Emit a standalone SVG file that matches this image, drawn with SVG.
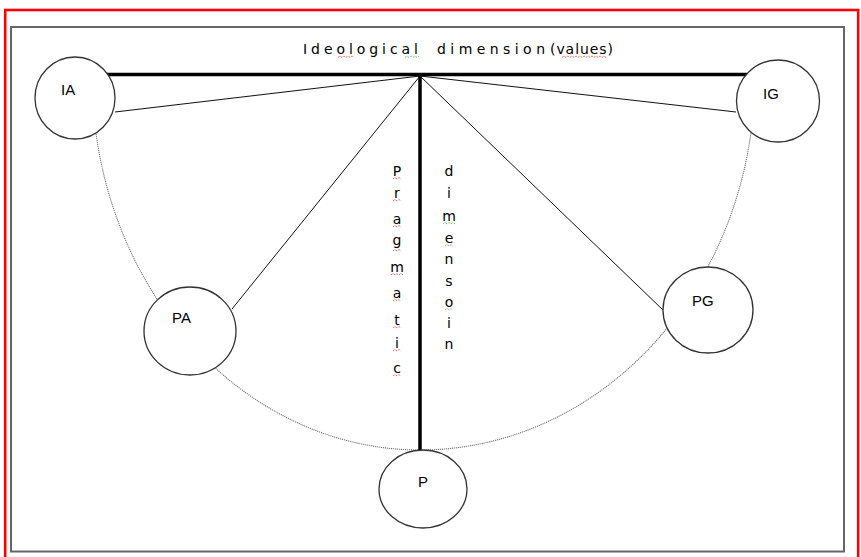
<svg xmlns="http://www.w3.org/2000/svg" width="861" height="557" viewBox="0 0 861 557">
<style>
text{font-family:"DejaVu Sans","Liberation Sans",sans-serif;font-size:14px;fill:#000}
.lbl{font-size:15px;font-family:"Liberation Sans",Arial,sans-serif}
.node{fill:#fff;stroke:#333;stroke-width:1.3}
.thin{stroke:#111;stroke-width:1;fill:none}
.thick{stroke:#000;stroke-width:3.5;fill:none}
.arc{stroke:#777;stroke-width:1.1;fill:none;stroke-dasharray:1.2 0.8}
.sqr{stroke:#d22;stroke-width:0.9;fill:none;stroke-dasharray:1 1}
.sqg{stroke:#3a3;stroke-width:0.9;fill:none;stroke-dasharray:1 1}
.vt{text-anchor:middle}
</style>
<rect x="0" y="0" width="861" height="557" fill="#fff"/>
<rect x="5.2" y="10" width="853" height="560" fill="none" stroke="#f00" stroke-width="2.6"/>
<rect x="11" y="27" width="833" height="524.5" fill="none" stroke="#666" stroke-width="2"/>

<g id="connectors">
  <path class="arc" d="M420,450 A328,375 0 0 1 92,75"/>
  <path class="arc" d="M420,450 A335,375 0 0 0 755,75"/>
  <line class="thick" x1="107" y1="74.5" x2="747" y2="74.5"/>
  <line class="thick" x1="420" y1="73" x2="420" y2="450"/>
  <line class="thin" x1="420" y1="76" x2="115" y2="112"/>
  <line class="thin" x1="420" y1="76" x2="736" y2="112"/>
  <line class="thin" x1="420" y1="76" x2="232" y2="309"/>
  <line class="thin" x1="420" y1="76" x2="663" y2="310"/>
</g>

<g id="title">
  <text x="303" y="54" textLength="115" lengthAdjust="spacing">Ideological</text>
  <text x="437" y="54" textLength="108" lengthAdjust="spacing">dimension</text>
  <text x="550" y="54" textLength="63" lengthAdjust="spacing">(values)</text>
  <path class="sqr" d="M338,57.5 l2,-1.5 l2,1.5 l2,-1.5 l2,1.5 l2,-1.5 l2,1.5 l2,-1.5 l2,1.5"/>
  <path class="sqg" d="M405,57.5 l2,-1.5 l2,1.5 l2,-1.5 l2,1.5 l2,-1.5 l2,1.5 l2,-1.5"/>
  <path class="sqr" d="M562,57.5 l2,-1.5 l2,1.5 l2,-1.5 l2,1.5 l2,-1.5 l2,1.5 l2,-1.5 l2,1.5 l2,-1.5 l2,1.5 l2,-1.5 l2,1.5 l2,-1.5 l2,1.5 l2,-1.5 l2,1.5 l2,-1.5 l2,1.5 l2,-1.5 l2,1.5 l2,-1.5 l2,1.5"/>
</g>

<g id="pragmatic">
  <text class="vt" x="397" y="176">P</text>
  <text class="vt" x="397" y="198">r</text>
  <text class="vt" x="397" y="224">a</text>
  <text class="vt" x="397" y="245">g</text>
  <text class="vt" x="397" y="272">m</text>
  <text class="vt" x="397" y="298">a</text>
  <text class="vt" x="397" y="325">t</text>
  <text class="vt" x="397" y="348">i</text>
  <text class="vt" x="397" y="373">c</text>
  <path class="sqr" d="M393,179 l2,-1.5 l2,1.5 l2,-1.5 l2,1.5"/>
  <path class="sqr" d="M393,201 l2,-1.5 l2,1.5 l2,-1.5 l2,1.5"/>
  <path class="sqr" d="M393,227 l2,-1.5 l2,1.5 l2,-1.5 l2,1.5"/>
  <path class="sqr" d="M393,251 l2,-1.5 l2,1.5 l2,-1.5 l2,1.5"/>
  <path class="sqr" d="M391,275 l2,-1.5 l2,1.5 l2,-1.5 l2,1.5 l2,-1.5 l2,1.5"/>
  <path class="sqr" d="M393,301 l2,-1.5 l2,1.5 l2,-1.5 l2,1.5"/>
  <path class="sqr" d="M393,328 l2,-1.5 l2,1.5 l2,-1.5 l2,1.5"/>
  <path class="sqr" d="M393,351 l2,-1.5 l2,1.5 l2,-1.5 l2,1.5"/>
  <path class="sqr" d="M393,376 l2,-1.5 l2,1.5 l2,-1.5 l2,1.5"/>
</g>

<g id="dimensoin">
  <text class="vt" x="449" y="176">d</text>
  <text class="vt" x="449" y="198">i</text>
  <text class="vt" x="449" y="221">m</text>
  <text class="vt" x="449" y="243">e</text>
  <text class="vt" x="449" y="264">n</text>
  <text class="vt" x="449" y="286">s</text>
  <text class="vt" x="449" y="307">o</text>
  <text class="vt" x="449" y="328">i</text>
  <text class="vt" x="449" y="349">n</text>
  <path class="sqg" d="M443,224 l2,-1.5 l2,1.5 l2,-1.5 l2,1.5 l2,-1.5 l2,1.5"/>
  <path class="sqg" d="M445,246 l2,-1.5 l2,1.5 l2,-1.5 l2,1.5"/>
  <path class="sqg" d="M445,310 l2,-1.5 l2,1.5 l2,-1.5 l2,1.5"/>
</g>

<g id="node-IA">
  <ellipse class="node" cx="75" cy="98" rx="40" ry="41"/>
  <text class="lbl" x="61" y="95">IA</text>
</g>
<g id="node-IG">
  <ellipse class="node" cx="778" cy="101" rx="41.5" ry="41"/>
  <text class="lbl" x="763" y="99">IG</text>
</g>
<g id="node-PA">
  <ellipse class="node" cx="190" cy="331" rx="46" ry="44"/>
  <text class="lbl" x="172" y="323">PA</text>
</g>
<g id="node-PG">
  <ellipse class="node" cx="708" cy="310" rx="45" ry="43"/>
  <text class="lbl" x="692" y="306">PG</text>
</g>
<g id="node-P">
  <ellipse class="node" cx="423" cy="489" rx="44" ry="39"/>
  <text class="lbl" x="418" y="487">P</text>
</g>
</svg>
